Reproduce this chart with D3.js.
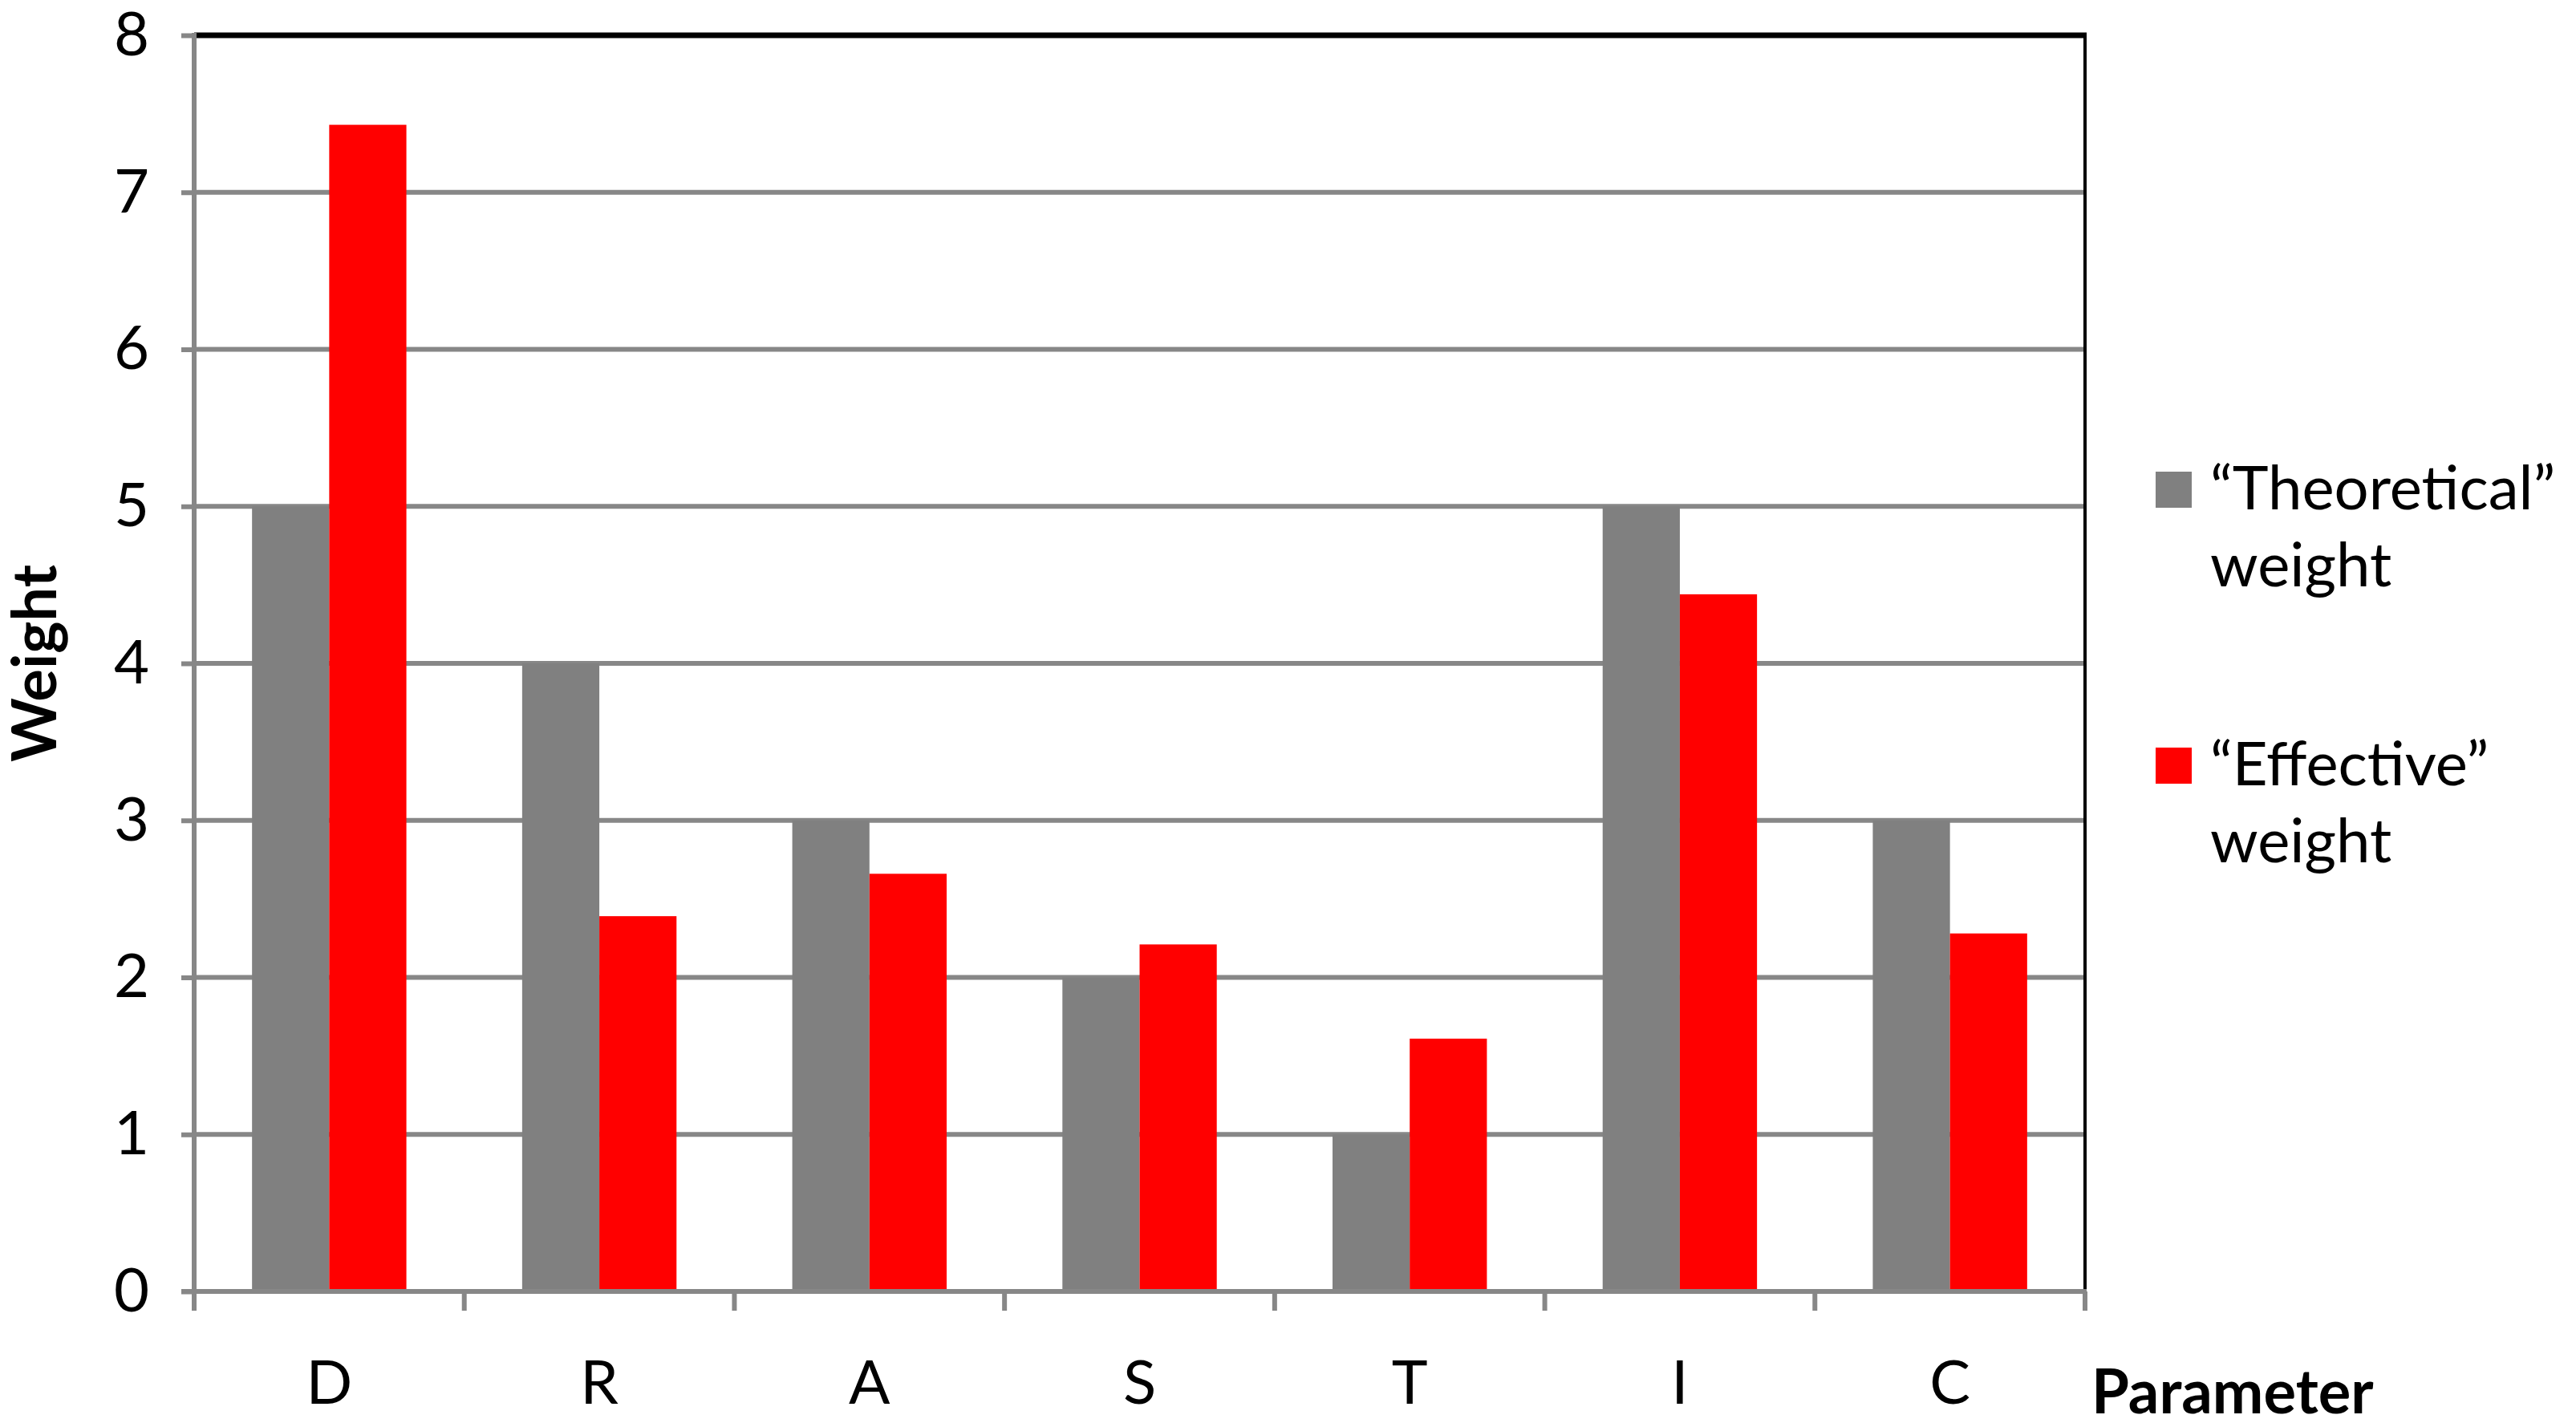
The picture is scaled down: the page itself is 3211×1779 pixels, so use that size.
<html>
<head>
<style>
  body { margin: 0; background: #fff; }
  text { font-family: Lato, "Open Sans", sans-serif; fill: #000; }
</style>
</head>
<body>
<script src="https://d3js.org/d3.v7.min.js"></script>
<script>

var categories = ['D', 'R', 'A', 'S', 'T', 'I', 'C'];
var seriesNames = ['theoretical', 'effective'];
var theoretical = [5, 4, 3, 2, 1, 5, 3];
var effective = [7.43, 2.39, 2.66, 2.21, 1.61, 4.44, 2.28];
var yTicks = [0, 1, 2, 3, 4, 5, 6, 7, 8];
var legendLines = [['\u201CTheoretical\u201D', 'weight'], ['\u201CEffective\u201D', 'weight']];

var width = 3211,
    height = 1779;

// plot area edges (avoid the name "top", it is taken by window.top)
var plotLeft = 242, plotRight = 2599, plotTop = 44, plotBottom = 1610;

var colors = { theoretical: '#808080', effective: '#ff0000' },
    gridColor = '#878787';

var svg = d3.select('body').append('svg')
    .attr('width', width)
    .attr('height', height);

var x = d3.scaleBand()
    .domain(categories)
    .range([plotLeft, plotRight])
    .padding(0);

var x1 = d3.scaleBand()
    .domain(seriesNames)
    .range([0, x.bandwidth()])
    .paddingInner(0)
    .paddingOuter(0.75);

var y = d3.scaleLinear()
    .domain([0, 8])
    .range([plotBottom, plotTop]);

// gridlines
svg.append('g')
  .selectAll('line')
  .data(yTicks.slice(1, -1))
  .join('line')
    .attr('x1', plotLeft)
    .attr('x2', plotRight)
    .attr('y1', function(d) { return y(d); })
    .attr('y2', function(d) { return y(d); })
    .attr('stroke', gridColor)
    .attr('stroke-width', 6);

// bars
var rows = categories.map(function(c, i) {
  return { cat: c, theoretical: theoretical[i], effective: effective[i] };
});

svg.append('g')
  .selectAll('g')
  .data(rows)
  .join('g')
    .attr('transform', function(d) { return 'translate(' + x(d.cat) + ',0)'; })
  .selectAll('rect')
  .data(function(d) { return seriesNames.map(function(s) { return { key: s, value: d[s] }; }); })
  .join('rect')
    .attr('x', function(d) { return x1(d.key); })
    .attr('width', x1.bandwidth())
    .attr('y', function(d) { return y(d.value); })
    .attr('height', function(d) { return plotBottom - y(d.value); })
    .attr('fill', function(d) { return colors[d.key]; });

// plot border top / right
svg.append('line')
    .attr('x1', plotLeft).attr('x2', plotRight + 2)
    .attr('y1', plotTop).attr('y2', plotTop)
    .attr('stroke', '#000').attr('stroke-width', 7);
svg.append('line')
    .attr('x1', plotRight).attr('x2', plotRight)
    .attr('y1', plotTop).attr('y2', plotBottom)
    .attr('stroke', '#000').attr('stroke-width', 4);

// y axis
var yAxis = svg.append('g')
    .attr('transform', 'translate(' + plotLeft + ',0)')
    .call(d3.axisLeft(y).tickValues(yTicks).tickSize(16).tickPadding(40).tickFormat(d3.format('d')));
yAxis.select('.domain').attr('stroke', gridColor).attr('stroke-width', 6)
    .attr('d', 'M0,' + (plotTop - 3) + 'V' + plotBottom);
yAxis.selectAll('.tick line').attr('stroke', gridColor).attr('stroke-width', 6);
yAxis.selectAll('.tick text')
    .style('font-family', 'Lato, sans-serif')
    .attr('font-size', 76)
    .attr('fill', '#000');

// x axis
var xAxis = svg.append('g')
    .attr('transform', 'translate(0,' + plotBottom + ')')
    .call(d3.axisBottom(x).tickSize(0).tickPadding(86));
xAxis.select('.domain').attr('stroke', gridColor).attr('stroke-width', 6)
    .attr('d', 'M' + (plotLeft - 16) + ',0H' + (plotRight + 2));
xAxis.selectAll('.tick text')
    .style('font-family', 'Lato, sans-serif')
    .attr('font-size', 76)
    .attr('fill', '#000');

// category boundary ticks
var bounds = categories.map(function(c) { return x(c); }).concat([plotRight]);
svg.append('g')
  .selectAll('line')
  .data(bounds)
  .join('line')
    .attr('x1', function(d) { return d; })
    .attr('x2', function(d) { return d; })
    .attr('y1', plotBottom)
    .attr('y2', plotBottom + 24)
    .attr('stroke', gridColor)
    .attr('stroke-width', 6);

// axis titles
svg.append('text')
    .attr('transform', 'translate(70,' + ((plotTop + plotBottom) / 2) + ') rotate(-90)')
    .attr('text-anchor', 'middle')
    .attr('font-size', 76)
    .attr('font-weight', 'bold')
    .text('Weight');

svg.append('text')
    .attr('x', 2607)
    .attr('y', 1762)
    .attr('font-size', 76)
    .attr('font-weight', 'bold')
    .text('Parameter');

// legend
var legend = svg.append('g')
  .selectAll('g')
  .data(seriesNames)
  .join('g')
    .attr('transform', function(d, i) { return 'translate(2687,' + (588 + i * 344) + ')'; });

legend.append('rect')
    .attr('width', 45)
    .attr('height', 45)
    .attr('fill', function(d) { return colors[d]; });

legend.append('text')
    .attr('x', 68)
    .attr('y', 47)
    .attr('font-size', 76)
    .selectAll('tspan')
    .data(function(d, i) { return legendLines[i]; })
    .join('tspan')
      .attr('x', 68)
      .attr('dy', function(d, i) { return i === 0 ? 0 : 96; })
      .text(function(d) { return d; });

</script>
</body>
</html>
